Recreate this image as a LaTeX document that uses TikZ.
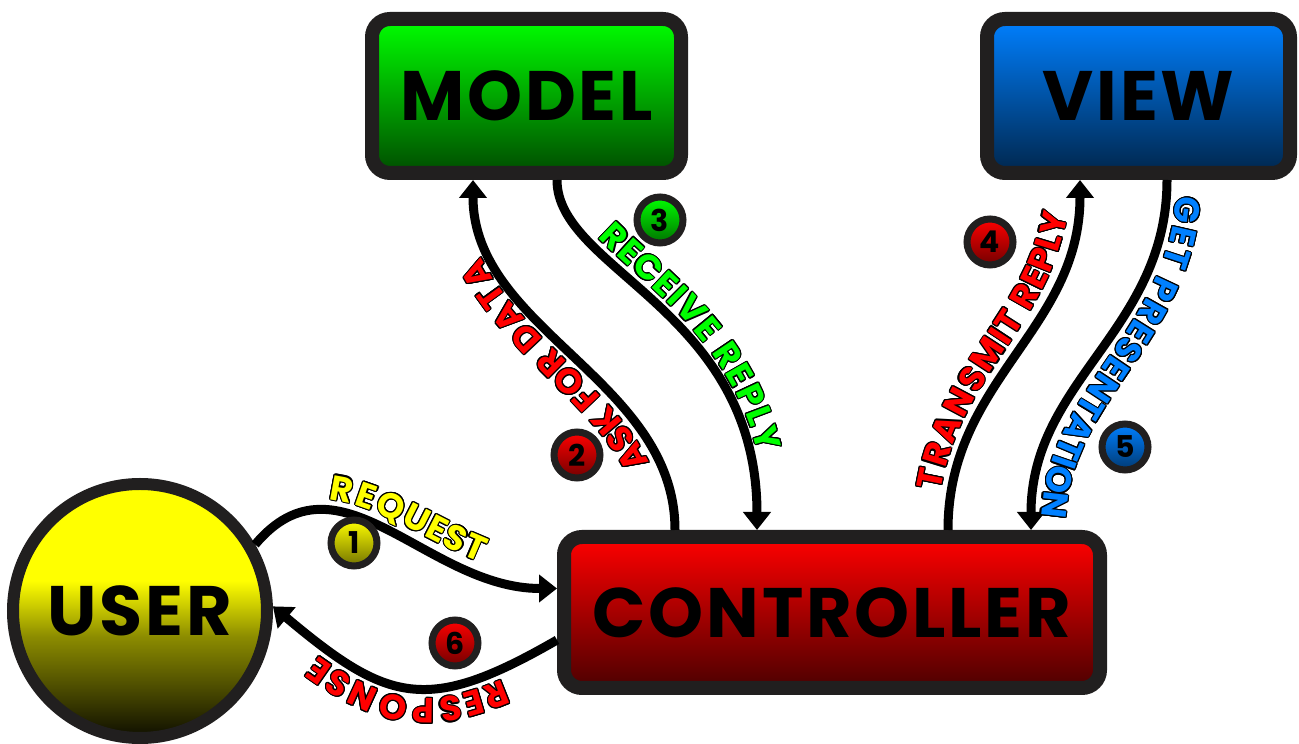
\documentclass[tikz,border=0pt]{standalone}
\usepackage{fontspec}
\usepackage{xcolor}
\usepackage{contour}
\usepackage{tikz}
\usetikzlibrary{shapes}
\usetikzlibrary{positioning}
\usetikzlibrary{arrows.meta}
\usetikzlibrary{shadows}
\usetikzlibrary{decorations.text}
\newfontfamily\mvcfont{Poppins}
\contourlength{1.1pt}
\definecolor{mvcyellow}{rgb}{1.0, 1.0, 0.0}
\definecolor{mvcred}{rgb}{1.0, 0.0, 0.0}
\definecolor{mvcgreen}{rgb}{0.0, 1.0, 0.0}
\definecolor{mvcblue}{rgb}{0.0, 0.5, 1.0}
\definecolor{mvcborder}{rgb}{0.13, 0.12, 0.12}
\pgfdeclareverticalshading{usershade}{100bp}{color(0bp)=(black); color(25bp)=(black!95!mvcyellow); color(45bp)=(mvcyellow!55!black); color(56bp)=(mvcyellow); color(100bp)=(mvcyellow)}
\newcommand{\labelfont}{\mvcfont\bfseries\fontsize{35}{35}\selectfont}
\tikzset{
  mvcbox/.style={rectangle, rounded corners=18pt, draw=mvcborder, line width=14pt, inner sep=0pt,
    font=\mvcfont\bfseries\fontsize{70}{72}\selectfont\addfontfeature{LetterSpace=4},
    drop shadow={opacity=0.3, shadow xshift=3pt, shadow yshift=-4pt}},
  badge/.style={circle, draw=mvcborder, line width=7pt, minimum size=46pt, inner sep=0pt,
    font=\mvcfont\bfseries\fontsize{30}{30}\selectfont,
    drop shadow={opacity=0.3, shadow xshift=2pt, shadow yshift=-2pt}},
  flow/.style={line width=9pt, -{Triangle[length=18pt, width=27pt]}},
  flowlabel/.style 2 args={decoration={text effects along path, text={#2}, text align=center, raise=10pt,
    text effects/.cd, text along path, character command=\contour{black},
    character widths={font=\labelfont, inner xsep=0.6pt},
    characters={text=#1, font=\labelfont}}}
}
\begin{document}
\begin{tikzpicture}[x=1pt, y=1pt]
    %
    \useasboundingbox (0,0) rectangle (1299,744);
    %
    % the four parts
    \node[mvcbox, minimum width=309pt, minimum height=154pt, top color=mvcgreen, middle color=mvcgreen, bottom color=mvcgreen!30!black] (model) at (526.5,648) {MODEL};
    \node[mvcbox, minimum width=303pt, minimum height=154pt, top color=mvcblue, middle color=mvcblue, bottom color=mvcblue!30!black] (view) at (1138.5,648) {VIEW};
    \node[mvcbox, minimum width=536pt, minimum height=151pt, top color=mvcred, middle color=mvcred, bottom color=mvcred!30!black] (controller) at (832,131.5) {CONTROLLER};
    \node[mvcbox, circle, minimum size=254pt, line width=12pt, shading=usershade] (user) at (140,133) {USER};
    %
    % the six steps
    \draw[flow, postaction={decorate, flowlabel={mvcyellow}{REQUEST}}] (user.30) .. controls +(50:130) and +(180:130) .. ([yshift=24pt]controller.west);
    \draw[flow, postaction={decorate, flowlabel={mvcred}{ASK FOR DATA}}] ([xshift=-157pt]controller.north) .. controls +(90:150) and +(-90:150) .. ([xshift=-53.5pt]model.south);
    \draw[flow, postaction={decorate, flowlabel={mvcgreen}{RECEIVE REPLY}}] ([xshift=30.5pt]model.south) .. controls +(-90:90) and +(90:220) .. ([xshift=-75pt]controller.north);
    \draw[flow, postaction={decorate, flowlabel={mvcred}{TRANSMIT REPLY}}] ([xshift=116pt]controller.north) .. controls +(90:150) and +(-90:150) .. ([xshift=-58.5pt]view.south);
    \draw[flow, postaction={decorate, flowlabel={mvcblue}{GET PRESENTATION}}] ([xshift=28.5pt]view.south) .. controls +(-90:150) and +(90:150) .. ([xshift=199pt]controller.north);
    \draw[flow, postaction={decorate, flowlabel={mvcred}{RESPONSE}}] ([yshift=-27.5pt]controller.west) .. controls +(210:150) and +(-40:150) .. (user.2);
    %
    % numbers
    \node[badge, top color=mvcyellow, bottom color=mvcyellow!45!black] (one) at (354,201) {1};
    \node[badge, top color=mvcred, bottom color=mvcred!45!black] (two) at (577,289) {2};
    \node[badge, top color=mvcgreen, bottom color=mvcgreen!45!black] (three) at (660,524) {3};
    \node[badge, top color=mvcred, bottom color=mvcred!45!black] (four) at (990,502) {4};
    \node[badge, top color=mvcblue, bottom color=mvcblue!45!black] (five) at (1125,297) {5};
    \node[badge, top color=mvcred, bottom color=mvcred!45!black] (six) at (455,101) {6};
    %
\end{tikzpicture}
\end{document}
